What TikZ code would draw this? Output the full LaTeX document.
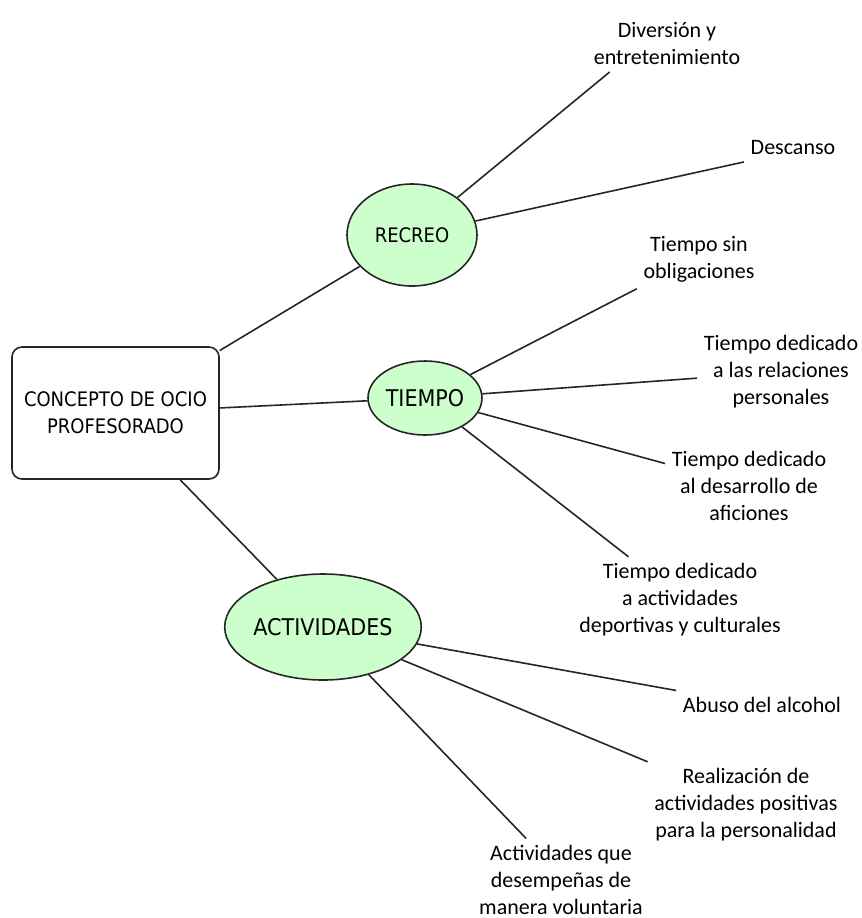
\documentclass[tikz,border=0pt]{standalone}
\usepackage{fontspec}
\setmainfont{Carlito}
\newfontfamily\hubfont{DejaVu Sans Condensed}
\usetikzlibrary{shapes.geometric}
\definecolor{hubgreen}{RGB}{204,255,204}

\begin{document}
\begin{tikzpicture}[x=0.5pt, y=-0.5pt, thick, draw=black!85,
    main node/.style={draw, rounded corners=5pt, minimum width=103.5pt,
      minimum height=66pt, align=center,
      font=\hubfont\fontsize{10}{13.5}\selectfont},
    hub node/.style={ellipse, draw, fill=hubgreen, inner sep=0pt},
    leaf node/.style={align=center, inner sep=3pt,
      font=\fontsize{11}{13.5}\selectfont},]

\useasboundingbox (0,0) rectangle (862,918);

\node[main node] (ocio) at (115.5,413) {CONCEPTO DE OCIO\\PROFESORADO};
\node[hub node, minimum width=65pt, minimum height=51pt,
  font=\hubfont\fontsize{10}{12}\selectfont] (recreo) at (412,235) {RECREO};
\node[hub node, minimum width=57pt, minimum height=37pt,
  font=\hubfont\fontsize{11.5}{14}\selectfont] (tiempo) at (425,398) {TIEMPO};
\node[hub node, minimum width=94pt, minimum height=53pt,
  font=\hubfont\fontsize{11.5}{14}\selectfont] (activ) at (323,627) {ACTIVIDADES};

\node[leaf node] (divers) at (667,44) {Diversión y\\entretenimiento};
\node[leaf node] (desc) at (793,148) {Descanso};
\node[leaf node] (sinoblig) at (699,259) {Tiempo sin\\obligaciones};
\node[leaf node] (relac) at (781,372) {Tiempo dedicado\\a las relaciones\\personales};
\node[leaf node] (aficion) at (749,486) {Tiempo dedicado\\al desarrollo de\\aficiones};
\node[leaf node] (deport) at (680,600) {Tiempo dedicado\\a actividades\\deportivas y culturales};
\node[leaf node] (alcohol) at (762,705) {Abuso del alcohol};
\node[leaf node] (positiv) at (746,805) {Realización de\\actividades positivas\\para la personalidad};
\node[leaf node] (volunt) at (561,880) {Actividades que\\desempeñas de\\manera voluntaria};

\path
(ocio) edge (recreo)
(ocio) edge (tiempo)
(ocio) edge (activ)

(recreo) edge (divers.206)
(recreo) edge (desc.south west)

(tiempo) edge (sinoblig.south west)
(tiempo) edge (relac)
(tiempo) edge (aficion.165)
(tiempo) edge (deport.140)

(activ) edge (alcohol.north west)
(activ) edge (positiv.north west)
(activ) edge (volunt.130);

\end{tikzpicture}
\end{document}
